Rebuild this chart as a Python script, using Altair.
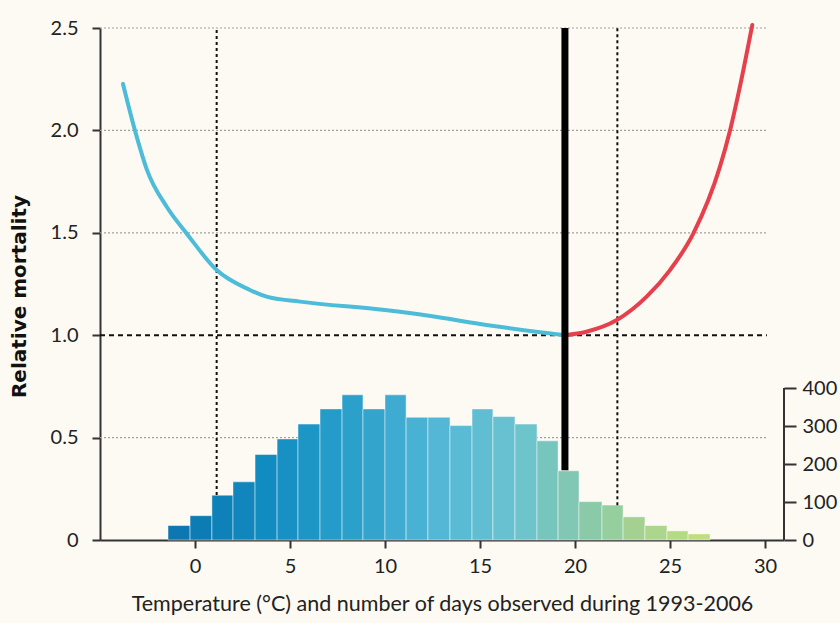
import altair as alt
import pandas as pd

# ---- data ----
bin_edges = [-1.42, -0.26, 0.89, 2.0, 3.16, 4.32, 5.42, 6.58, 7.74, 8.84, 10.0,
             11.11, 12.26, 13.42, 14.58, 15.68, 16.84, 18.0, 19.11, 20.21, 21.42,
             22.53, 23.68, 24.84, 25.95, 27.11]
day_counts = [38, 64, 118, 153, 225, 266, 305, 345, 382, 345, 382, 323, 323, 301,
              345, 325, 305, 261, 182, 101, 92, 61, 38, 24, 16]

cold_temp = [-3.79, -3.16, -2.54, -1.49, -0.44, 1.14, 2.89, 3.77, 5.53, 10.0, 12.4, 15.0, 19.47]
cold_rm = [2.227, 2.0, 1.81, 1.627, 1.497, 1.318, 1.221, 1.188, 1.164, 1.123, 1.094, 1.055, 1.0]

heat_temp = [19.47, 20.6, 22.2, 23.77, 25.0, 26.23, 27.63, 28.16, 28.68, 29.33]
heat_rm = [1.0, 1.017, 1.074, 1.188, 1.318, 1.497, 1.823, 2.0, 2.214, 2.515]

grid_levels = [0.5, 1.5, 2.0, 2.5]
ref_level = 1.0
line_end_temp = 30.1
x_start = -5
optimum_temp = 19.47
optimum_bottom = 0.34
percentile_temps = [1.14, 22.23]
percentile_bottoms = [0.22, 0.17]
right_axis_days = [0, 400]

x_ticks = [0, 5, 10, 15, 20, 25, 30]
y_ticks = [0, 0.5, 1.0, 1.5, 2.0, 2.5]
day_ticks = [0, 100, 200, 300, 400]

FONT = "Lato"
X_DOMAIN = [-5, 31]
RM_DOMAIN = [0, 2.5]
DAY_DOMAIN = [0, 1347.4]

bars_df = pd.DataFrame({
    "t0": bin_edges[:-1],
    "t1": bin_edges[1:],
    "days": day_counts,
})
bars_df["tm"] = (bars_df["t0"] + bars_df["t1"]) / 2

cold_df = pd.DataFrame({"t": cold_temp, "rm": cold_rm})
heat_df = pd.DataFrame({"t": heat_temp, "rm": heat_rm})
grid_df = pd.DataFrame({"y": grid_levels, "x0": x_start, "x1": line_end_temp})
ref_df = pd.DataFrame({"y": [ref_level], "x0": [x_start], "x1": [line_end_temp]})
pct_df = pd.DataFrame({"t": percentile_temps, "y0": percentile_bottoms, "y1": 2.5})
opt_df = pd.DataFrame({"t": [optimum_temp], "y0": [optimum_bottom], "y1": [2.5]})
raxis_df = pd.DataFrame({"d0": [right_axis_days[0]], "d1": [right_axis_days[1]]})

xs = alt.Scale(domain=X_DOMAIN, nice=False, zero=False)
ys = alt.Scale(domain=RM_DOMAIN, nice=False, zero=False)
ds = alt.Scale(domain=DAY_DOMAIN, nice=False, zero=False)

x_axis = alt.Axis(
    values=x_ticks, title="Temperature (°C) and number of days observed during 1993-2006",
    grid=False, domainColor="#333333", domainWidth=2, tickColor="#333333", tickWidth=2,
    tickSize=8, labelFontSize=20, labelPadding=8, labelFont=FONT, labelColor="#222222",
    titleFont=FONT, titleFontSize=21.5, titleFontWeight="normal", titleColor="#222222",
    titlePadding=17,
)

y_axis = alt.Axis(
    values=y_ticks, title="Relative mortality", grid=False, domainColor="#333333",
    domainWidth=2, tickColor="#333333", tickWidth=2, tickSize=8, labelFontSize=20,
    labelPadding=14, labelFont=FONT, labelColor="#222222",
    labelExpr="datum.value == 0 ? '0' : format(datum.value, '.1f')",
    titleFont="DejaVu Sans", titleFontSize=20, titleFontWeight="bold", titleColor="#111111",
    titlePadding=21, titleY=268,
)

d_axis = alt.Axis(
    values=day_ticks, orient="right", title=None, grid=False, domain=False,
    tickColor="#333333", tickWidth=2, tickSize=12, labelFontSize=20, labelPadding=6,
    labelFont=FONT, labelColor="#222222",
)

X = lambda f: alt.X(f, scale=xs, axis=x_axis)

grid = alt.Chart(grid_df).mark_rule(color="#a0a0a0", strokeDash=[2, 2], strokeWidth=1.2).encode(
    x=X("x0:Q"),
    x2="x1:Q",
    y=alt.Y("y:Q", scale=ys, axis=y_axis),
)

bars = alt.Chart(bars_df).mark_rect(stroke="#ffffff", strokeOpacity=0.45, strokeWidth=1).encode(
    x=X("t0:Q"),
    x2="t1:Q",
    y=alt.Y("days:Q", scale=ds, axis=d_axis),
    y2=alt.datum(0),
    color=alt.Color(
        "tm:Q",
        scale=alt.Scale(
            domain=[-1, 4, 9, 13, 17, 20, 23, 27],
            range=["#0d76b0", "#128dc2", "#2ea3cc", "#55b8d6", "#6cc3cf",
                   "#86c7b0", "#a3d192", "#c4df7a"],
        ),
        legend=None,
    ),
)

raxis = alt.Chart(raxis_df).mark_rule(color="#333333", strokeWidth=2).encode(
    x=alt.value(684),
    y=alt.Y("d0:Q", scale=ds, axis=None),
    y2="d1:Q",
)

pct = alt.Chart(pct_df).mark_rule(color="#111111", strokeDash=[3, 3], strokeWidth=2).encode(
    x=X("t:Q"),
    y=alt.Y("y0:Q", scale=ys, axis=None),
    y2="y1:Q",
)

ref = alt.Chart(ref_df).mark_rule(color="#111111", strokeDash=[5, 4], strokeWidth=2).encode(
    x=X("x0:Q"),
    x2="x1:Q",
    y=alt.Y("y:Q", scale=ys, axis=None),
)

cold = alt.Chart(cold_df).mark_line(color="#4dbcd8", strokeWidth=4, interpolate="monotone",
                                    strokeCap="round").encode(
    x=X("t:Q"),
    y=alt.Y("rm:Q", scale=ys, axis=None),
)

heat = alt.Chart(heat_df).mark_line(color="#e5404b", strokeWidth=4, interpolate="monotone",
                                    strokeCap="round", clip=False).encode(
    x=X("t:Q"),
    y=alt.Y("rm:Q", scale=ys, axis=None),
)

opt = alt.Chart(opt_df).mark_rule(color="#000000", strokeWidth=7).encode(
    x=X("t:Q"),
    y=alt.Y("y0:Q", scale=ys, axis=None),
    y2="y1:Q",
)

chart = alt.layer(grid, bars, raxis, pct, ref, cold, heat, opt).resolve_scale(
    y="independent"
).properties(
    width=684,
    height=512,
    background="#fdfaf3",
    padding={"left": 100, "top": 28, "right": 56, "bottom": 83},
    autosize=alt.AutoSizeParams(type="none"),
).configure_view(stroke=None)

chart.save("out.html", embed_options={"renderer": "svg", "actions": False})
